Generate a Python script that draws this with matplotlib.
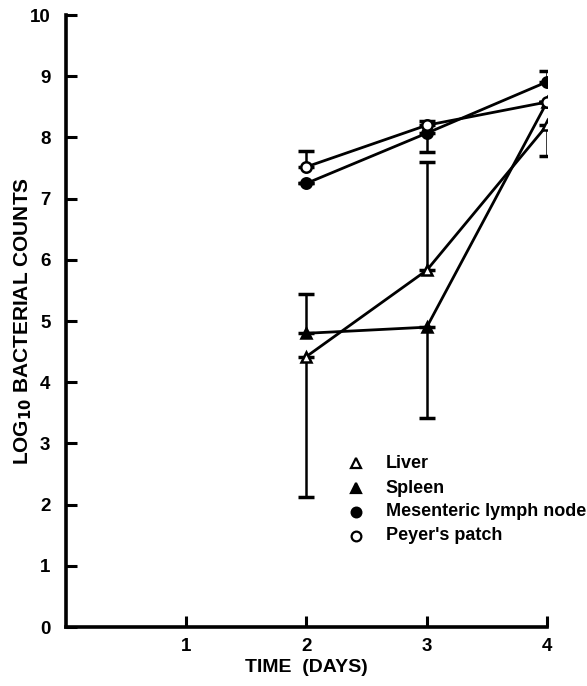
import matplotlib
matplotlib.use("Agg")
import matplotlib.pyplot as plt
import numpy as np

plt.rcParams['font.family'] = ['Liberation Sans', 'DejaVu Sans']
plt.rcParams['font.weight'] = 'bold'
plt.rcParams['mathtext.default'] = 'bf'

days = [2, 3, 4]
series_names = ["Liver", "Spleen", "Mesenteric lymph node", "Peyer's patch"]
liver = [4.42, 5.83, 8.20]
spleen = [4.80, 4.90, 8.58]
mln = [7.25, 8.07, 8.91]
peyer = [7.52, 8.20, 8.58]

# error bar end points (None = no bar on that side)
liver_lo = [2.12, None, 7.70]
liver_hi = [None, 7.60, None]
spleen_lo = [None, 3.42, None]
spleen_hi = [5.45, None, None]
mln_lo = [None, 7.77, None]
mln_hi = [None, None, 9.09]
peyer_lo = [None, None, None]
peyer_hi = [7.78, 8.27, None]

x_ticks = [1, 2, 3, 4]
y_ticks = list(range(0, 11))

fig = plt.figure(figsize=(5.87, 6.86), dpi=100)
ax = fig.add_axes([0.112, 0.086, 0.82, 0.892])

def errs(vals, lo, hi):
    lower = [v - l if l is not None else 0 for v, l in zip(vals, lo)]
    upper = [h - v if h is not None else 0 for v, h in zip(vals, hi)]
    return np.array([lower, upper])

styles = [
    (liver, liver_lo, liver_hi, '^', 'white'),
    (spleen, spleen_lo, spleen_hi, '^', 'black'),
    (mln, mln_lo, mln_hi, 'o', 'black'),
    (peyer, peyer_lo, peyer_hi, 'o', 'white'),
]

for vals, lo, hi, mk, fc in styles:
    ax.errorbar(days, vals, yerr=errs(vals, lo, hi), fmt='none', ecolor='black',
                elinewidth=1.8, capsize=6, capthick=2.5, zorder=2)
    ax.plot(days, vals, color='black', linewidth=2.0, marker=mk, markersize=7.5,
            markerfacecolor=fc, markeredgecolor='black', markeredgewidth=1.8, zorder=3)

# legend (manual)
leg_y = [2.68, 2.27, 1.88, 1.49]
for (vals, lo, hi, mk, fc), name, yy in zip(styles, series_names, leg_y):
    ax.plot([2.41], [yy], marker=mk, markersize=7, markerfacecolor=fc,
            markeredgecolor='black', markeredgewidth=1.6, linestyle='none')
    ax.text(2.66, yy, name, fontsize=13, fontweight='bold', va='center', ha='left')

ax.set_xlim(0, 4)
ax.set_ylim(0, 10)
ax.set_xticks(x_ticks)
ax.set_yticks(y_ticks)
ax.set_xticklabels([str(t) for t in x_ticks], fontsize=13.5, fontweight='bold')
ax.set_yticklabels([str(t) for t in y_ticks], fontsize=13.5, fontweight='bold')
ax.tick_params(direction='in', length=8, width=2.2)
ax.tick_params(axis='y', pad=11)
ax.tick_params(axis='x', pad=8)

for s in ['top', 'right']:
    ax.spines[s].set_visible(False)
for s in ['left', 'bottom']:
    ax.spines[s].set_linewidth(2.6)

ax.set_xlabel('TIME  (DAYS)', fontsize=14, fontweight='bold')
ax.set_ylabel(r'LOG$_{\mathbf{10}}$ BACTERIAL COUNTS', fontsize=15, fontweight='bold')
ax.xaxis.set_label_coords(0.5, -0.052)
ax.yaxis.set_label_coords(-0.066, 0.5)

fig.savefig('out.png', dpi=100)
